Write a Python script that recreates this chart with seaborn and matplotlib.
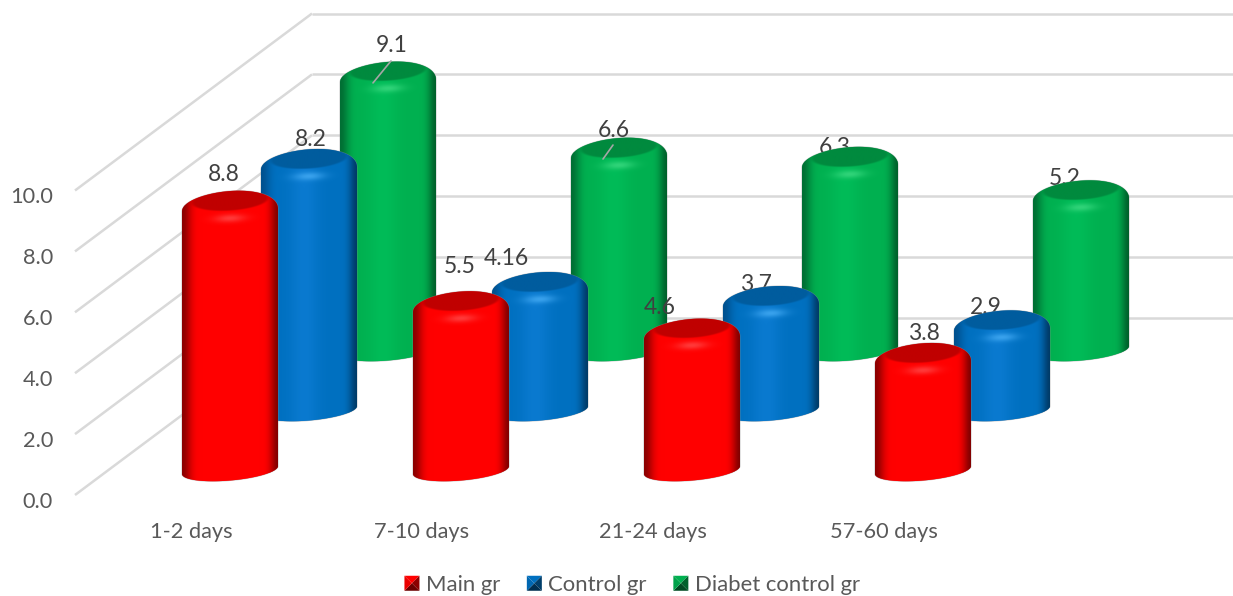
import numpy as np
import pandas as pd
import matplotlib
matplotlib.use("Agg")
import matplotlib.pyplot as plt
from matplotlib.colors import to_rgb
from matplotlib.legend_handler import HandlerBase
from matplotlib.patches import PathPatch, Polygon
from matplotlib.path import Path
import seaborn as sns

# Chart values
categories = ["1-2 days", "7-10 days", "21-24 days", "57-60 days"]
series_names = ["Main gr", "Control gr", "Diabet control gr"]
main_gr = [8.8, 5.5, 4.6, 3.8]
control_gr = [8.2, 4.16, 3.7, 2.9]
diabet_gr = [9.1, 6.6, 6.3, 5.2]
axis_values = [0, 2, 4, 6, 8, 10]

# Colours per series: base, cap, highlight, left edge, right edge
base_colors = ["#ff0000", "#0070c0", "#00b050"]
cap_colors = ["#c00000", "#005c9e", "#008a3e"]
glow_colors = ["#ff4040", "#3ea6f0", "#35d67c"]
left_edges = ["#8c0000", "#00518f", "#006f34"]
right_edges = ["#800000", "#003a66", "#005f2b"]
center_tints = ["#ff0000", "#0a7ad0", "#00bc58"]

# Label offsets from the top of each cylinder, in pixels
main_nudge = [(-6, -31), (-1, -39), (-32, -25), (1, -24)]
control_nudge = [(2, -24), (-34, -28), (-15, -16), (-16, -17)]
diabet_nudge = [(4, -30), (-5, -22), (-15, -14), (-16, -16)]

# Leader lines for the labels that sit on their cylinder: value -> two pixel offsets
leaders = {9.1: ((-15, 7), (3, -15)), 6.6: ((-16, 7), (-6, -7))}

# Projection of the 3-D box onto the page
PX_CAT, PX_VAL = 231.0, 30.45
W, H = 1233, 596
AX_LEFT, AX_BOTTOM = 60, 510
ORIGIN_X, ORIGIN_Y = 230, 473
DEPTH_X, DEPTH_Y = 79 / PX_CAT, 60 / PX_VAL
HALF_W = 48
FRONT_OFF, BACK_OFF = (ORIGIN_Y - 495) / PX_VAL, (ORIGIN_Y - 318) / PX_VAL
WALL_FRONT_X, WALL_BACK_X = (75 - ORIGIN_X) / PX_CAT, (312 - ORIGIN_X) / PX_CAT

sns.set_theme(style="white")
plt.rcParams["font.family"] = ["Lato", "DejaVu Sans"]
TICK_SIZE = 15.7
LEGEND_SIZE = 15.9
LABEL_SIZE = 16.5

fig = plt.figure(figsize=(W / 100, H / 100), dpi=100)
ax = fig.add_axes([AX_LEFT / W, (H - AX_BOTTOM) / H, (W - AX_LEFT) / W, AX_BOTTOM / H])
xlim = ((AX_LEFT - ORIGIN_X) / PX_CAT, (W - ORIGIN_X) / PX_CAT)
ylim = ((ORIGIN_Y - AX_BOTTOM) / PX_VAL, ORIGIN_Y / PX_VAL)


def dx(px):
    return px / PX_CAT


def dy(px):
    return -px / PX_VAL


def cylinder_path(cx, y0, y1):
    """Outline of a tilted cylinder with a domed top, in data coordinates."""
    t = np.linspace(0, np.pi, 80)
    # lower rim, right to left
    xb = cx + dx(HALF_W) * np.cos(t)
    yb = y0 + dy(-3 - 4 * np.cos(t) + 10.5 * np.sin(t))
    # dome, left to right, its crown leaning a little to the right
    c = np.cos(t)[::-1]
    s = np.sin(t)[::-1]
    xt = cx + dx(HALF_W) * c
    yt = y1 + dy(5.5 - 1.5 * c - 19.5 * s ** 0.93 - 2 * s * c)
    verts = np.column_stack([np.r_[xb, xt, xb[0]], np.r_[yb, yt, yb[0]]])
    return Path(verts, closed=True)


def blend(a, b, f):
    return a + (b - a) * f[..., None]


def smooth(e0, e1, v):
    q = np.clip((v - e0) / (e1 - e0), 0, 1)
    return q * q * (3 - 2 * q)


def shaded_image(s, y_top_px, y_bot_px):
    """Lit cylinder surface with a dark cap and a glow under the rim."""
    nx, ny = 200, int((y_bot_px - y_top_px) * 2)
    u = np.linspace(-1, 1, nx)
    py = np.linspace(-22, y_bot_px - y_top_px - 22, ny)
    U, Y = np.meshgrid(u, py)
    base = np.array(to_rgb(base_colors[s]))
    img = np.ones((ny, nx, 3)) * base
    img = blend(img, np.array(to_rgb(center_tints[s])), np.exp(-((U + 0.1) / 0.3) ** 2))
    img = blend(img, np.array(to_rgb(left_edges[s])), (1 - smooth(-1, -0.58, U)) ** 2)
    img = blend(img, np.array(to_rgb(right_edges[s])), smooth(0.62, 1.02, U) ** 2)
    # soft glow on the bevel
    glow = np.exp(-(U / 0.32) ** 2 - ((Y - 13 + 2 * U) / 4.0) ** 2)
    img = blend(img, np.array(to_rgb(glow_colors[s])), glow * 0.9)
    # dark inner cap
    Yc = Y + 5 + 3 * U
    r = (U / 0.82) ** 2 + (Yc / 10.5) ** 2
    cap = 1 - smooth(0.8, 1.1, r)
    img = blend(img, np.array(to_rgb(cap_colors[s])), cap)
    return img


# Back wall and side wall gridlines
grid_color = "#d9d9d9"
for v in axis_values:
    ax.plot([WALL_FRONT_X, WALL_BACK_X], [FRONT_OFF + v, BACK_OFF + v],
            color=grid_color, lw=1.8, solid_capstyle="butt", zorder=1)
    ax.plot([WALL_BACK_X, xlim[1]], [BACK_OFF + v, BACK_OFF + v],
            color=grid_color, lw=1.8, solid_capstyle="butt", zorder=1)

all_values = [main_gr, control_gr, diabet_gr]
all_nudges = [main_nudge, control_nudge, diabet_nudge]
index = np.arange(len(categories))

# Far series first so nearer cylinders overlap it
for s in [2, 1, 0]:
    z = 50 - 10 * s
    frame = pd.DataFrame({"pos": index + s * DEPTH_X, "value": all_values[s]})
    before = len(ax.patches)
    sns.barplot(data=frame, x="pos", y="value", native_scale=True, color=base_colors[s],
                saturation=1, width=2 * HALF_W / PX_CAT, bottom=s * DEPTH_Y, errorbar=None,
                ax=ax, zorder=z, linewidth=0)
    for bar, val, (nx_, ny_) in zip(ax.patches[before:], all_values[s], all_nudges[s]):
        cx = bar.get_x() + bar.get_width() / 2
        y0 = bar.get_y()
        y1 = y0 + bar.get_height()
        outline = PathPatch(cylinder_path(cx, y0, y1), facecolor=base_colors[s],
                            edgecolor=(0.55, 0.55, 0.55, 0.45), lw=0.8, zorder=z + 0.1)
        ax.add_patch(outline)
        bar.set_clip_path(outline)
        top_px = (ylim[1] - y1) * PX_VAL - 22
        bot_px = (ylim[1] - y0) * PX_VAL + 14
        im = ax.imshow(shaded_image(s, top_px, bot_px), aspect="auto", origin="upper",
                       extent=(cx - dx(HALF_W), cx + dx(HALF_W),
                               ylim[1] - bot_px / PX_VAL, ylim[1] - top_px / PX_VAL),
                       interpolation="bilinear", zorder=z + 0.2)
        im.set_clip_path(outline)
        ax.text(cx + dx(nx_), y1 + dy(ny_), f"{val:g}", ha="center", va="center",
                fontsize=LABEL_SIZE, color="#404040", zorder=z - 0.5)
        if val in leaders:
            (ax_, ay_), (bx_, by_) = leaders[val]
            ax.plot([cx + dx(ax_), cx + dx(bx_)], [y1 + dy(ay_), y1 + dy(by_)],
                    color="#a6a6a6", lw=1.2, zorder=z + 1)

# Axis text
ax.set_xlim(*xlim)
ax.set_ylim(*ylim)
ax.set_xticks(index - 39 / PX_CAT, categories)
ax.set_yticks([FRONT_OFF + v - 0.15 for v in axis_values], [f"{v:.1f}" for v in axis_values])
ax.tick_params(axis="both", length=0, labelsize=TICK_SIZE, labelcolor="#595959")
ax.tick_params(axis="x", pad=8.5)
ax.tick_params(axis="y", pad=5)
ax.set_xlabel("")
ax.set_ylabel("")
ax.grid(False)
sns.despine(ax=ax, left=True, bottom=True)
ax.patch.set_visible(False)


class BevelSwatch(HandlerBase):
    """Small square built from four shaded facets meeting at its centre."""

    def create_artists(self, legend, orig, x0, y0, width, height, fontsize, trans):
        side = 15 * 0.72
        xa, ya = x0, y0 + (height - side) / 2
        xb, yb = xa + side, ya + side
        mid = ((xa + xb) / 2, (ya + yb) / 2)
        col = np.array(to_rgb(orig.get_facecolor()))
        corners = [(xa, yb), (xb, yb), (xb, ya), (xa, ya)]
        shades = [1.0, 0.55, 0.42, 0.92]
        out = []
        for i, sh in enumerate(shades):
            out.append(Polygon([corners[i], corners[(i + 1) % 4], mid],
                               facecolor=col * sh, edgecolor="none", transform=trans))
        return out


handles = [Polygon([(0, 0), (1, 0), (1, 1)], facecolor=c) for c in base_colors]
ax.legend(handles, series_names, handler_map={Polygon: BevelSwatch()}, loc="center",
          bbox_to_anchor=(632 / W, 1 - 585 / H), bbox_transform=fig.transFigure, ncol=3,
          frameon=False, fontsize=LEGEND_SIZE, labelcolor="#595959", handlelength=0.68,
          handletextpad=0.28, columnspacing=1.22, borderpad=0, borderaxespad=0)

fig.savefig("out.png", dpi=100)
